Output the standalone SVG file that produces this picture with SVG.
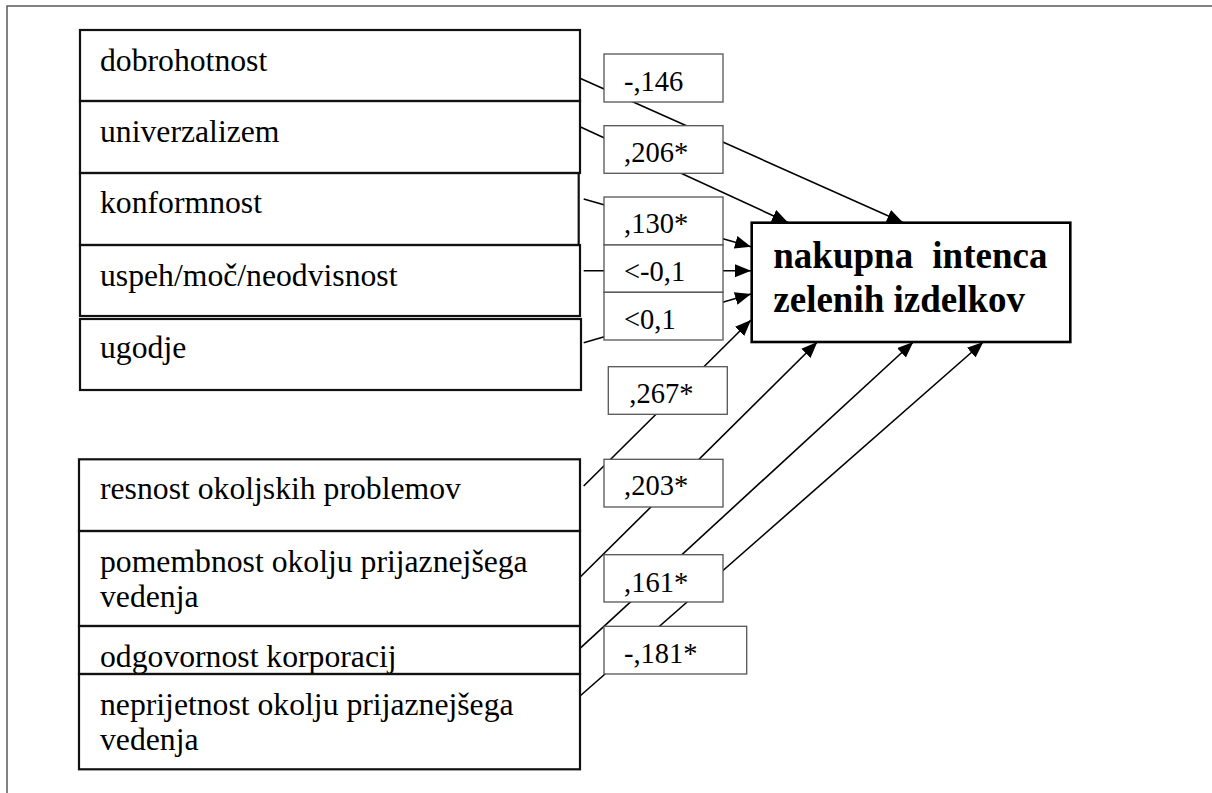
<svg xmlns="http://www.w3.org/2000/svg" width="1212" height="793" viewBox="0 0 1212 793">
  <defs>
    <marker id="arrow" markerUnits="userSpaceOnUse" markerWidth="18" markerHeight="14" refX="16" refY="6.5" orient="auto">
      <path d="M0,0 L16,6.5 L0,13 z" fill="#000"/>
    </marker>
  </defs>
  <style>
    .frame { stroke: #5a5a5a; stroke-width: 1.5; fill: none; }
    .var { fill: none; stroke: #111; stroke-width: 2.2; }
    .coef { fill: #fff; stroke: #555; stroke-width: 1.3; }
    .target { fill: #fff; stroke: #000; stroke-width: 2.6; }
    .edge { stroke: #000; stroke-width: 1.6; fill: none; marker-end: url(#arrow); }
  </style>

  <rect width="1212" height="793" fill="#fff"/>

  <!-- page frame -->
  <path class="frame" d="M7,793 L7,6 L1212,6"/>

  <!-- paths from predictors to the outcome -->
  <g id="connectors">
    <line class="edge" x1="580" y1="78.3" x2="903" y2="222.5"/>
    <line class="edge" x1="580" y1="126.7" x2="788" y2="222.5"/>
    <line class="edge" x1="583.7" y1="199" x2="751" y2="246.7"/>
    <line class="edge" x1="583.7" y1="270.7" x2="751" y2="270.7"/>
    <line class="edge" x1="583.7" y1="342.7" x2="751" y2="294"/>
    <line class="edge" x1="583.7" y1="486" x2="751" y2="320"/>
    <line class="edge" x1="580" y1="577.3" x2="817.3" y2="342"/>
    <line class="edge" x1="580" y1="648.3" x2="913.3" y2="342"/>
    <line class="edge" x1="580" y1="696" x2="983.3" y2="342"/>
  </g>

  <!-- value orientations -->
  <g id="dobrohotnost">
    <rect class="var" x="80" y="30" width="500" height="71"/>
    <text font-family="Liberation Serif" font-size="31.7" x="100" y="71">dobrohotnost</text>
  </g>
  <g id="univerzalizem">
    <rect class="var" x="80" y="101" width="500" height="72"/>
    <text font-family="Liberation Serif" font-size="31.7" x="100" y="141.7">univerzalizem</text>
  </g>
  <g id="konformnost">
    <rect class="var" x="80" y="173" width="498.7" height="72"/>
    <text font-family="Liberation Serif" font-size="31.7" x="100" y="213">konformnost</text>
  </g>
  <g id="uspeh">
    <rect class="var" x="80" y="245" width="500" height="71"/>
    <text font-family="Liberation Serif" font-size="31.7" x="100" y="285.7">uspeh/moč/neodvisnost</text>
  </g>
  <g id="ugodje">
    <rect class="var" x="80" y="319" width="501" height="71"/>
    <text font-family="Liberation Serif" font-size="31.7" x="100" y="358">ugodje</text>
  </g>

  <!-- environmental attitudes -->
  <g id="resnost">
    <rect class="var" x="79" y="459.3" width="501" height="71.7"/>
    <text font-family="Liberation Serif" font-size="31.7" x="100" y="499.3">resnost okoljskih problemov</text>
  </g>
  <g id="pomembnost">
    <rect class="var" x="79" y="531" width="501" height="95"/>
    <text font-family="Liberation Serif" font-size="31.7" x="100" y="571.7">pomembnost okolju prijaznejšega</text>
    <text font-family="Liberation Serif" font-size="31.7" x="100" y="606.7">vedenja</text>
  </g>
  <g id="odgovornost">
    <rect class="var" x="79" y="626" width="501" height="48"/>
    <text font-family="Liberation Serif" font-size="31.7" x="100" y="666.7">odgovornost korporacij</text>
  </g>
  <g id="neprijetnost">
    <rect class="var" x="79" y="674" width="501" height="95.3"/>
    <text font-family="Liberation Serif" font-size="31.7" x="100" y="715">neprijetnost okolju prijaznejšega</text>
    <text font-family="Liberation Serif" font-size="31.7" x="100" y="750">vedenja</text>
  </g>

  <!-- outcome -->
  <g id="nakupna-intenca">
    <rect class="target" x="751.7" y="222.7" width="318.6" height="119.3"/>
    <text font-family="Liberation Serif" font-size="37" font-weight="bold" y="268.3"><tspan x="773.3">nakupna</tspan><tspan x="932.3">intenca</tspan></text>
    <text font-family="Liberation Serif" font-size="37" font-weight="bold" x="773.3" y="311.7">zelenih izdelkov</text>
  </g>

  <!-- path coefficients -->
  <g id="coefficients">
    <rect class="coef" x="604" y="54" width="119" height="48"/>
    <text font-family="Liberation Serif" font-size="28.5" x="624" y="90.7">-,146</text>
    <rect class="coef" x="604" y="125.7" width="119" height="47.6"/>
    <text font-family="Liberation Serif" font-size="28.5" x="624" y="162.3">,206*</text>
    <rect class="coef" x="604" y="197" width="119" height="48"/>
    <text font-family="Liberation Serif" font-size="28.5" x="624" y="233.3">,130*</text>
    <rect class="coef" x="604" y="245" width="119" height="47.3"/>
    <text font-family="Liberation Serif" font-size="28.5" x="624" y="280.7">&lt;-0,1</text>
    <rect class="coef" x="604" y="292.3" width="119" height="47.7"/>
    <text font-family="Liberation Serif" font-size="28.5" x="624" y="329.3">&lt;0,1</text>
    <rect class="coef" x="608.3" y="366.7" width="119" height="47.6"/>
    <text font-family="Liberation Serif" font-size="28.5" x="629.3" y="403.3">,267*</text>
    <rect class="coef" x="604" y="459.3" width="119" height="47.7"/>
    <text font-family="Liberation Serif" font-size="28.5" x="624" y="495">,203*</text>
    <rect class="coef" x="604" y="554.7" width="119" height="47.3"/>
    <text font-family="Liberation Serif" font-size="28.5" x="624" y="592">,161*</text>
    <rect class="coef" x="604" y="626.3" width="142.7" height="47.7"/>
    <text font-family="Liberation Serif" font-size="28.5" x="624" y="663.3">-,181*</text>
  </g>
</svg>
